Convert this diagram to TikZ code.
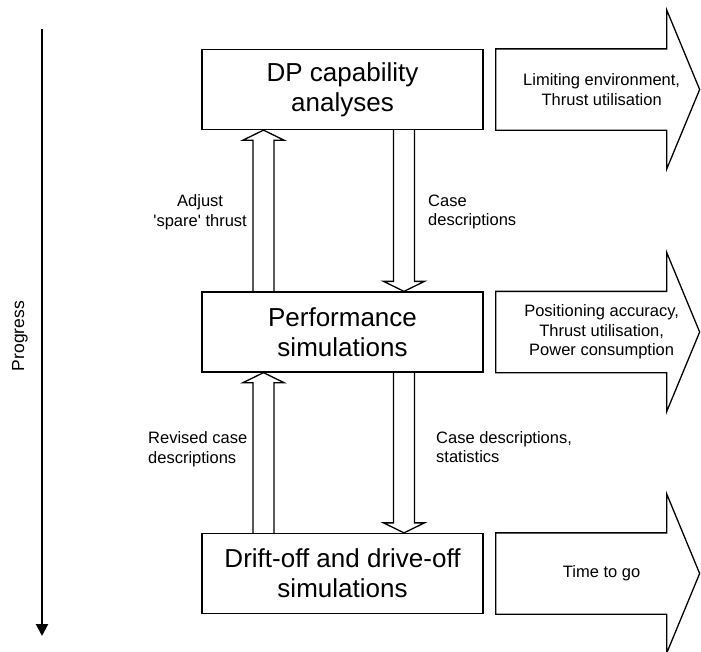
\documentclass[tikz,border=0pt]{standalone}
\usepackage{fontspec}
\setmainfont{Liberation Sans}[Ligatures=TeXOff]
\usetikzlibrary{calc,arrows.meta}

\tikzset{
  box/.style={draw,line width=1.3pt,minimum width=281pt,minimum height=80pt,
    align=center,inner sep=0pt,font=\fontsize{26}{30}\selectfont},
  lbl/.style={inner sep=0pt,font=\fontsize{16.5}{19.5}\selectfont},
  flow/.style={line width=1.3pt,line join=miter},
  outline/.style={line width=1.3pt,line join=miter},
  progress/.style={line width=2pt,-{Triangle[width=12pt,length=12pt]}},
}

% hollow vertical arrow: start point, target anchor
\newcommand{\flowarrow}[2]{%
  \draw[flow] let \p1=(#1), \p2=(#2), \n1={(\y2>\y1)*20-10} in
    (\x1-10.5,\y1) -- (\x1-10.5,\y2-\n1) -- (\x1-20.5,\y2-\n1) -- (\x1,\y2)
    -- (\x1+20.5,\y2-\n1) -- (\x1+10.5,\y2-\n1) -- (\x1+10.5,\y1);}

% big result arrow beside a box: box, node name, text
\newcommand{\outarrow}[3]{%
  \draw[outline] let \p1=(#1.north east), \p2=(#1.south east) in
    (\x1+12,\y1) -- (\x1+183,\y1) -- (\x1+183,\y1+39) -- (\x1+216,0.5*\y1+0.5*\y2)
    -- (\x1+183,\y2-39) -- (\x1+183,\y2) -- (\x1+12,\y2) -- cycle
    node[lbl,align=center] (#2) at (\x1+118,0.5*\y1+0.5*\y2) {#3};}

\begin{document}
\begin{tikzpicture}[x=1pt,y=-1pt]
	\useasboundingbox (0,0) rectangle (701,651);

	% the three stages
	\node[box] (cap) at (342.5,89.5) {DP capability\\analyses};
	\node[box] (perf) at (342.5,332) {Performance\\simulations};
	\node[box] (drift) at (342.5,573.5) {Drift-off and drive-off\\simulations};

	% exchange between stages
	\flowarrow{$(perf.north)+(-79,0)$}{cap.south}
	\flowarrow{$(cap.south)+(61.5,0)$}{perf.north}
	\flowarrow{$(drift.north)+(-79,0)$}{perf.south}
	\flowarrow{$(perf.south)+(61.5,0)$}{drift.north}

	\node[lbl,align=center,anchor=east] (adjust) at (247,212) {Adjust\\'spare' thrust};
	\node[lbl,align=left,anchor=west] (casedesc) at (428,212) {Case\\descriptions};
	\node[lbl,align=left,anchor=west] (revised) at (148,449) {Revised case\\descriptions};
	\node[lbl,align=left,anchor=west] (casestat) at (436,447) {Case descriptions,\\statistics};

	% results
	\outarrow{cap}{capout}{Limiting environment,\\Thrust utilisation}
	\outarrow{perf}{perfout}{Positioning accuracy,\\Thrust utilisation,\\Power consumption}
	\outarrow{drift}{driftout}{Time to go}

	% time axis
	\coordinate (progstart) at (42,29);
	\coordinate (progend) at (42,636);
	\draw[progress] (progstart) -- (progend);
	\node[lbl,rotate=90,font=\fontsize{17.5}{20}\selectfont] (proglabel) at (20,336) {Progress};
\end{tikzpicture}
\end{document}
